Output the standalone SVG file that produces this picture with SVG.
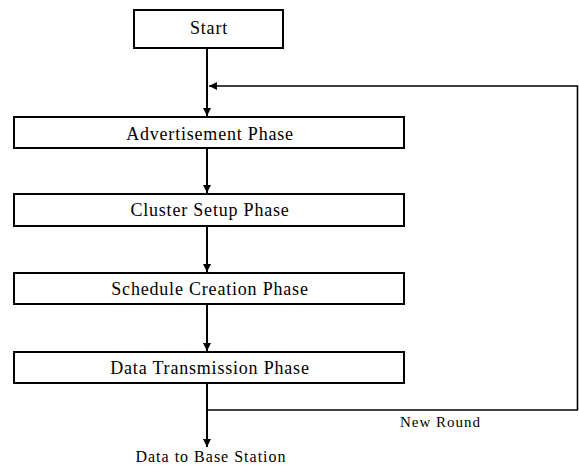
<svg xmlns="http://www.w3.org/2000/svg" width="579" height="468" viewBox="0 0 579 468">
  <defs>
    <marker id="arrow" viewBox="0 0 10 10" refX="10" refY="5" markerWidth="8" markerHeight="8" orient="auto" markerUnits="userSpaceOnUse">
      <path d="M0,0 L10,5 L0,10 z" fill="#000"/>
    </marker>
    <style>
      .box { fill: #fff; stroke: #000; stroke-width: 2; }
      .label { font-family: "Liberation Serif", "Times New Roman", serif; font-size: 18px; letter-spacing: 0.8px; fill: #000; text-anchor: middle; }
      .small { font-family: "Liberation Serif", "Times New Roman", serif; font-size: 15px; letter-spacing: 1px; fill: #000; }
      .conn { fill: none; stroke: #000; stroke-width: 2; }
      .loop { fill: none; stroke: #000; stroke-width: 1.6; }
    </style>
  </defs>
  <rect width="579" height="468" fill="#fff"/>

  <g id="connectors">
    <path class="conn" d="M207,48 L207,116" marker-end="url(#arrow)"/>
    <path class="loop" d="M577.5,410 L577.5,86 L209,86" marker-end="url(#arrow)"/>
    <path class="conn" d="M207,148 L207,193" marker-end="url(#arrow)"/>
    <path class="conn" d="M207,227 L207,272" marker-end="url(#arrow)"/>
    <path class="conn" d="M207,305 L207,351" marker-end="url(#arrow)"/>
    <path class="conn" d="M207,384 L207,447" marker-end="url(#arrow)"/>
    <path class="loop" d="M207,410 L578,410"/>
  </g>

  <g id="start">
    <rect class="box" x="134" y="10" width="149" height="38"/>
    <text class="label" x="209" y="34">Start</text>
  </g>
  <g id="advertisement">
    <rect class="box" x="14" y="117" width="390" height="31"/>
    <text class="label" x="210" y="140">Advertisement Phase</text>
  </g>
  <g id="cluster-setup">
    <rect class="box" x="14" y="194" width="390" height="32"/>
    <text class="label" x="210" y="216">Cluster Setup Phase</text>
  </g>
  <g id="schedule-creation">
    <rect class="box" x="14" y="273" width="390" height="31"/>
    <text class="label" x="210" y="295">Schedule Creation Phase</text>
  </g>
  <g id="data-transmission">
    <rect class="box" x="14" y="352" width="390" height="31"/>
    <text class="label" x="210" y="374">Data Transmission Phase</text>
  </g>
  <g id="new-round">
    <text class="small" x="400" y="427">New Round</text>
  </g>
  <g id="data-to-bs">
    <text class="small" x="211" y="462" text-anchor="middle" style="font-size:16px">Data to Base Station</text>
  </g>
</svg>
